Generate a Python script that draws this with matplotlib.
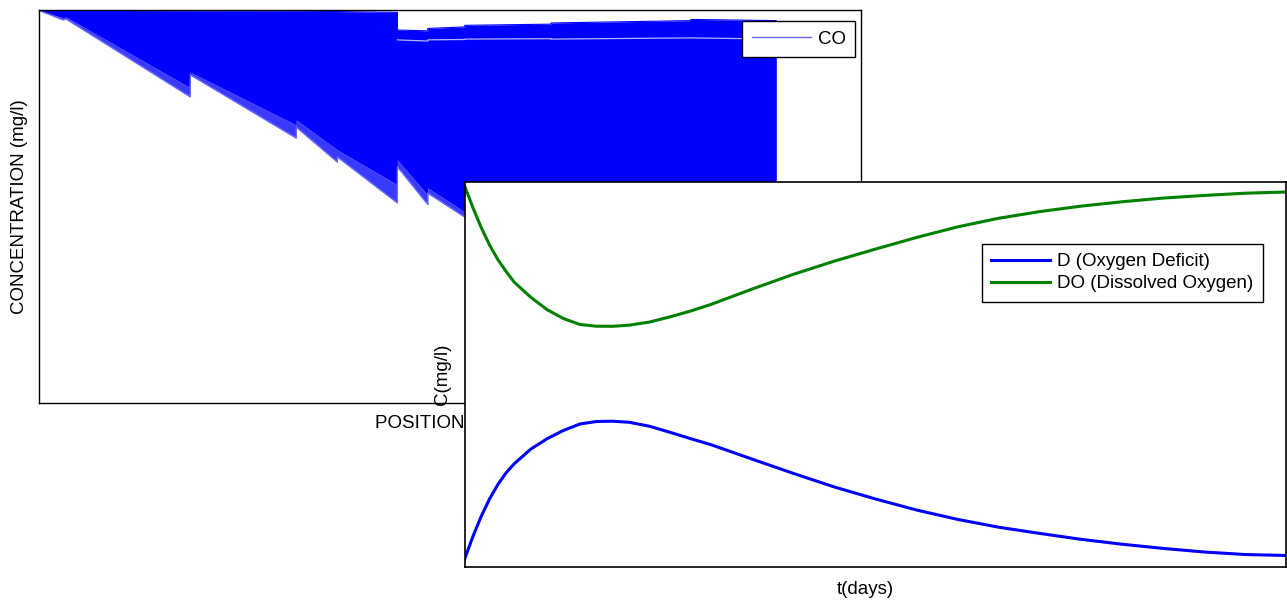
import matplotlib
matplotlib.use("Agg")
import matplotlib.pyplot as plt

plt.rcParams['font.family'] = ['Liberation Sans', 'DejaVu Sans']

# ---------------- Data: CO concentration profiles (envelope of the family) ----------------
co_position = [0, 2.9, 3.3, 18.4, 18.4, 31.3, 31.3, 36.3, 36.3, 43.6, 43.6, 47.3, 47.3,
               51.8, 51.8, 62.3, 62.3, 79.3, 79.3, 89.7]
co_upper = [10.0, 9.995, 9.995, 9.98, 9.98, 9.97, 9.97, 9.96, 9.96, 9.94, 9.49, 9.47, 9.53,
            9.57, 9.61, 9.64, 9.67, 9.73, 9.76, 9.73]
co_core = [9.99, 9.80, 9.82, 8.02, 8.42, 7.07, 7.20, 6.44, 6.44, 5.55, 6.18, 5.29, 5.47,
           4.86, 4.90, 4.40, 4.60, 3.70, 3.95, 3.20]
co_lower = [9.99, 9.75, 9.77, 7.79, 8.35, 6.74, 7.02, 6.13, 6.26, 5.09, 6.01, 5.05, 5.34,
            4.73, 4.78, 4.27, 4.53, 3.64, 3.89, 3.13]
# a visible gap between profiles near the top of the band
gap_position = [43.6, 47.3, 47.3, 51.8, 51.8, 62.3, 62.3, 79.3, 79.3, 89.7]
gap_value = [9.24, 9.21, 9.24, 9.25, 9.26, 9.27, 9.26, 9.29, 9.29, 9.26]

# ---------------- Data: Streeter-Phelps curves ----------------
t_days = [0.0, 0.1, 0.2, 0.3, 0.4, 0.5, 0.6, 0.8, 1.0, 1.2, 1.4, 1.6, 1.8, 2.0, 2.25, 2.5,
          2.75, 3.0, 3.5, 4.0, 4.5, 5.0, 5.5, 6.0, 6.5, 7.0, 7.5, 8.0, 8.5, 9.0, 9.5, 10.0]
deficit = [0.210, 0.732, 1.195, 1.594, 1.929, 2.200, 2.415, 2.754, 2.999, 3.193, 3.343, 3.401,
           3.408, 3.383, 3.289, 3.147, 2.999, 2.857, 2.520, 2.188, 1.870, 1.590, 1.332, 1.113,
           0.930, 0.785, 0.648, 0.533, 0.435, 0.351, 0.292, 0.269]
dissolved = [8.883, 8.385, 7.925, 7.523, 7.188, 6.910, 6.658, 6.307, 6.015, 5.807, 5.669, 5.629,
             5.627, 5.653, 5.727, 5.849, 5.985, 6.141, 6.499, 6.842, 7.151, 7.432, 7.703, 7.951,
             8.152, 8.308, 8.435, 8.537, 8.624, 8.685, 8.738, 8.766]

FS = 13.5

fig = plt.figure(figsize=(12.87, 6.01), dpi=100)

# ---------------- First axes ----------------
ax1 = fig.add_axes([39/1287, 1 - 403/601, 822/1287, 393/601])
ax1.fill_between(co_position, co_lower, co_core, color='#3a3aff', linewidth=0)
ax1.fill_between(co_position, co_core, co_upper, color='#0000ff', linewidth=0)
ax1.plot(co_position, co_lower, color='#6a6aff', lw=1.0, label='CO')
ax1.plot(co_position, co_upper, color='#0000ff', lw=0.8)
ax1.plot(gap_position, gap_value, color='white', lw=0.9, alpha=0.7)
ax1.set_xlim(0, 100)
ax1.set_ylim(0, 10)
ax1.set_xticks([])
ax1.set_yticks([])
for s in ax1.spines.values():
    s.set_color('black')
    s.set_linewidth(1.0)
ax1.set_xlabel('POSITION (miles)', fontsize=FS, labelpad=9)
ax1.set_ylabel('CONCENTRATION (mg/l)', fontsize=FS, labelpad=8)
leg1 = ax1.legend(loc='upper right', bbox_to_anchor=(0.9927, 0.972), borderaxespad=0,
                  fontsize=FS, fancybox=False, framealpha=1, edgecolor='black',
                  handlelength=3.15, handletextpad=0.37, borderpad=0.5)
leg1.get_frame().set_linewidth(1.0)

# ---------------- Second axes ----------------
ax2 = fig.add_axes([465/1287, 1 - 567/601, 821/1287, 385/601])
ax2.set_facecolor('white')
ax2.plot(t_days, deficit, color='#0000ff', lw=2.2, label='D (Oxygen Deficit)')
ax2.plot(t_days, dissolved, color='#008000', lw=2.2, label='DO (Dissolved Oxygen)')
ax2.set_xlim(0, 10)
ax2.set_ylim(0, 9)
ax2.set_xticks([])
ax2.set_yticks([])
for s in ax2.spines.values():
    s.set_color('black')
    s.set_linewidth(1.2)
ax2.set_xlabel('t(days)', fontsize=FS)
ax2.xaxis.set_label_coords(0.488, -0.037, transform=ax2.transAxes)
ax2.set_ylabel('C(mg/l)', fontsize=FS, labelpad=10)
leg2 = ax2.legend(loc='upper right', bbox_to_anchor=(0.972, 0.839), borderaxespad=0,
                  fontsize=FS, fancybox=False, framealpha=1, edgecolor='black',
                  handlelength=3.15, handletextpad=0.37, borderpad=0.5, labelspacing=0.25)
leg2.get_frame().set_linewidth(1.0)

fig.savefig('out.png', dpi=100)
